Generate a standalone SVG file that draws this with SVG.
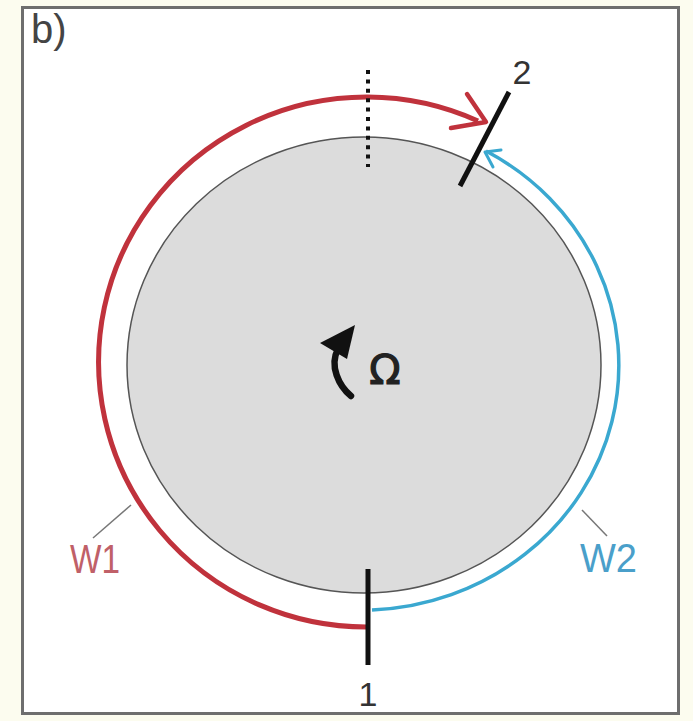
<svg xmlns="http://www.w3.org/2000/svg" width="693" height="721" viewBox="0 0 693 721">
<style>
.lbl{font-family:"Liberation Sans","DejaVu Sans",sans-serif;}
.num{font-size:34px;fill:#333;}
.tick{stroke:#111;stroke-width:5;fill:none;}
.lead{stroke:#777;stroke-width:1.5;fill:none;}
</style>
<rect x="0" y="0" width="693" height="721" fill="#fcfcef"/>
<rect x="22.5" y="7.5" width="656" height="706" fill="#ffffff" stroke="#6e6e6e" stroke-width="3"/>
<text class="lbl" x="31" y="43" font-size="40" fill="#444">b)</text>
<g id="disk">
<ellipse cx="364" cy="365" rx="237" ry="228" fill="#dcdcdc" stroke="#555" stroke-width="1.5"/>
</g>
<g id="rotation">
<path d="M351 396 C339 386 329 366 338 349" fill="none" stroke="#111" stroke-width="6.5" stroke-linecap="round"/>
<polygon points="320,343 355,325 347,359" fill="#111"/>
<text x="385" y="384" font-size="41" text-anchor="middle" fill="#222" stroke="#222" stroke-width="1.2" font-family="DejaVu Sans, sans-serif">Ω</text>
</g>
<g id="connectors">
<path d="M370 627 A268 265 0 1 1 478 121" fill="none" stroke="#c0323c" stroke-width="5"/>
<polyline points="467,94 486,122 451,128" fill="none" stroke="#c0323c" stroke-width="4.5" stroke-linejoin="round" stroke-linecap="round"/>
<path d="M372 610 A258 245 0 0 0 486 151" fill="none" stroke="#3aa8d0" stroke-width="3.5"/>
<polyline points="501,150 485,152 493,167" fill="none" stroke="#3aa8d0" stroke-width="3" stroke-linejoin="round" stroke-linecap="round"/>
<line x1="368" y1="70" x2="368" y2="167" stroke="#111" stroke-width="4" stroke-dasharray="4 5.4"/>
<line class="lead" x1="93" y1="538" x2="131" y2="505"/>
<line class="lead" x1="582" y1="510" x2="607" y2="536"/>
</g>
<g id="node-1">
<line class="tick" x1="368" y1="569" x2="368" y2="665"/>
<text class="lbl num" x="368" y="706" text-anchor="middle">1</text>
</g>
<g id="node-2">
<line class="tick" x1="509" y1="92" x2="460" y2="186"/>
<text class="lbl num" x="522" y="84" text-anchor="middle">2</text>
</g>
<g id="w1">
<text class="lbl" x="70" y="573" font-size="40" fill="#c06068" textLength="50" lengthAdjust="spacingAndGlyphs">W1</text>
</g>
<g id="w2">
<text class="lbl" x="580" y="572" font-size="40" fill="#4a9fca" textLength="57" lengthAdjust="spacingAndGlyphs">W2</text>
</g>
</svg>
